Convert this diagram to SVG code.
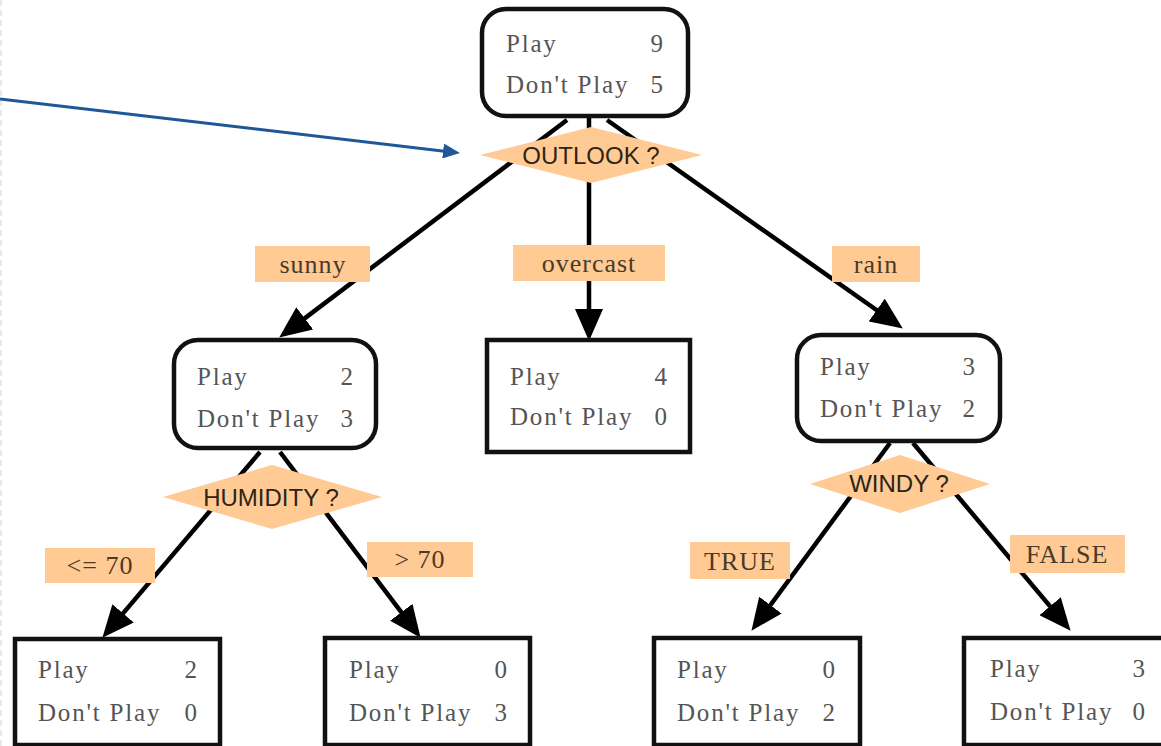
<svg xmlns="http://www.w3.org/2000/svg" width="1161" height="746" viewBox="0 0 1161 746">
<defs>
<marker id="ah" markerUnits="userSpaceOnUse" markerWidth="32" markerHeight="28" refX="25" refY="14" orient="auto"><path d="M0,0 L32,14 L0,28 z" fill="#000"/></marker>
<marker id="bh" markerUnits="userSpaceOnUse" markerWidth="17" markerHeight="15" refX="12" refY="7.5" orient="auto"><path d="M0,0 L17,7.5 L0,15 z" fill="#1f5797"/></marker>
<style>
.box{fill:#fff;stroke:#111;stroke-width:4.5}
.edge{stroke:#000;stroke-width:4.5;fill:none;marker-end:url(#ah)}
.dia{fill:#ffca94}
.lbl{fill:#ffca94}
.t{font-family:"Liberation Serif",serif;font-size:25px;fill:#555;letter-spacing:1.8px}
.n{font-family:"Liberation Serif",serif;font-size:25px;fill:#555;text-anchor:end}
.q{font-family:"Liberation Sans",sans-serif;font-size:24px;fill:#2e2414;text-anchor:middle}
.l{font-family:"Liberation Serif",serif;font-size:26px;fill:#4a3a28;text-anchor:middle;letter-spacing:1px}
</style>
</defs>
<line x1="1" y1="0" x2="1" y2="746" stroke="#e2e2e2" stroke-width="1.5" stroke-dasharray="6,4"/>
<g id="connectors">
<line class="edge" x1="567" y1="120" x2="284.8" y2="333.4"/>
<line class="edge" x1="589" y1="118" x2="589" y2="334"/>
<line class="edge" x1="607" y1="120" x2="897.1" y2="324.5"/>
<line class="edge" x1="260" y1="452" x2="106.9" y2="632.4"/>
<line class="edge" x1="280" y1="452" x2="416.4" y2="632.2"/>
<line class="edge" x1="890" y1="443" x2="755.6" y2="625.2"/>
<line class="edge" x1="913" y1="443" x2="1066.1" y2="625.4"/>
<line x1="0" y1="99" x2="455" y2="152.4" stroke="#1f5797" stroke-width="3" marker-end="url(#bh)"/>
<g id="edge-labels">
<rect class="lbl" x="255" y="246" width="115" height="36"/><text class="l" x="313" y="273">sunny</text>
<rect class="lbl" x="513" y="245" width="152" height="36"/><text class="l" x="589" y="272">overcast</text>
<rect class="lbl" x="832" y="246" width="88" height="36"/><text class="l" x="876" y="273">rain</text>
<rect class="lbl" x="45" y="548" width="110" height="35"/><text class="l" x="100" y="574">&lt;= 70</text>
<rect class="lbl" x="367" y="542" width="106" height="35"/><text class="l" x="420" y="568">&gt; 70</text>
<rect class="lbl" x="690" y="542" width="100" height="37"/><text class="l" x="740" y="570">TRUE</text>
<rect class="lbl" x="1010" y="535" width="115" height="38"/><text class="l" x="1067" y="563">FALSE</text>
</g>
</g>
<g id="root">
<rect class="box" x="482" y="9" width="206" height="107" rx="24"/>
<text class="t" x="506" y="52">Play</text><text class="n" x="663" y="52">9</text>
<text class="t" x="506" y="93">Don't Play</text><text class="n" x="663" y="93">5</text>
</g>
<g id="outlook">
<polygon class="dia" points="480,155 591,127 702,155 591,183"/>
<text class="q" x="591" y="164">OUTLOOK ?</text>
</g>
<g id="sunny-node">
<rect class="box" x="174" y="340" width="202" height="108" rx="24"/>
<text class="t" x="197" y="385">Play</text><text class="n" x="353" y="385">2</text>
<text class="t" x="197" y="427">Don't Play</text><text class="n" x="353" y="427">3</text>
</g>
<g id="humidity">
<polygon class="dia" points="163,497 272,465 382,497 272,529"/>
<text class="q" x="271" y="506">HUMIDITY ?</text>
</g>
<g id="overcast-node">
<rect class="box" x="487" y="340" width="203" height="112"/>
<text class="t" x="510" y="385">Play</text><text class="n" x="667" y="385">4</text>
<text class="t" x="510" y="425">Don't Play</text><text class="n" x="667" y="425">0</text>
</g>
<g id="rain-node">
<rect class="box" x="797" y="335" width="203" height="106" rx="24"/>
<text class="t" x="820" y="375">Play</text><text class="n" x="975" y="375">3</text>
<text class="t" x="820" y="417">Don't Play</text><text class="n" x="975" y="417">2</text>
</g>
<g id="windy">
<polygon class="dia" points="810,484 900,455 990,484 900,513"/>
<text class="q" x="899" y="492">WINDY ?</text>
</g>
<g id="leaf1">
<rect class="box" x="15" y="639" width="205" height="106"/>
<text class="t" x="38" y="678">Play</text><text class="n" x="197" y="678">2</text>
<text class="t" x="38" y="721">Don't Play</text><text class="n" x="197" y="721">0</text>
</g>
<g id="leaf2">
<rect class="box" x="325" y="638" width="205" height="107"/>
<text class="t" x="349" y="678">Play</text><text class="n" x="507" y="678">0</text>
<text class="t" x="349" y="721">Don't Play</text><text class="n" x="507" y="721">3</text>
</g>
<g id="leaf3">
<rect class="box" x="654" y="638" width="206" height="107"/>
<text class="t" x="677" y="678">Play</text><text class="n" x="835" y="678">0</text>
<text class="t" x="677" y="721">Don't Play</text><text class="n" x="835" y="721">2</text>
</g>
<g id="leaf4">
<rect class="box" x="964" y="638" width="210" height="107"/>
<text class="t" x="990" y="677">Play</text><text class="n" x="1145" y="677">3</text>
<text class="t" x="990" y="720">Don't Play</text><text class="n" x="1145" y="720">0</text>
</g>
</svg>
